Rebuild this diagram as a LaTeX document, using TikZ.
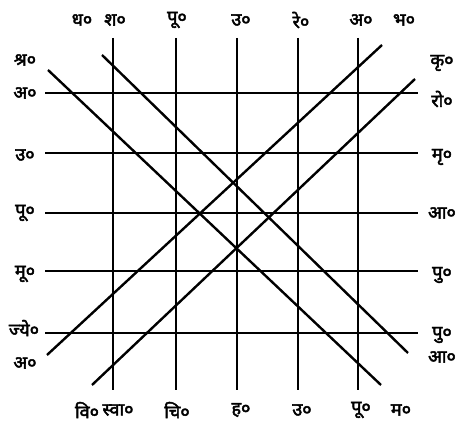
\documentclass[tikz,border=0pt]{standalone}
\usepackage{fontspec}
\newfontfamily\devfont[Script=Devanagari,FakeBold=2.5]{Noto Sans}
\usetikzlibrary{positioning}
\tikzset{
 lbl/.style={inner sep=0pt,font=\devfont\fontsize{18}{20}\selectfont},
 rule/.style={line width=2.4pt}
}
\begin{document}
\begin{tikzpicture}[x=1pt,y=-1pt]
\useasboundingbox (0,0) rectangle (459,422);
% line ends
\coordinate (v1t) at (113,38);  \coordinate (v1b) at (113,390);
\coordinate (v2t) at (176,38);  \coordinate (v2b) at (176,390);
\coordinate (v3t) at (237,38);  \coordinate (v3b) at (237,390);
\coordinate (v4t) at (298,38);  \coordinate (v4b) at (298,390);
\coordinate (v5t) at (358,38);  \coordinate (v5b) at (358,390);
\coordinate (h1l) at (45,93);   \coordinate (h1r) at (418,93);
\coordinate (h2l) at (45,153);  \coordinate (h2r) at (418,153);
\coordinate (h3l) at (45,213);  \coordinate (h3r) at (418,213);
\coordinate (h4l) at (45,271);  \coordinate (h4r) at (418,271);
\coordinate (h5l) at (45,333);  \coordinate (h5r) at (418,333);
\coordinate (d1a) at (48,70);   \coordinate (d1b) at (381,385);
\coordinate (d2a) at (102,55);  \coordinate (d2b) at (408,353);
\coordinate (d3a) at (47,355);  \coordinate (d3b) at (382,45);
\coordinate (d4a) at (92,385);  \coordinate (d4b) at (415,79);
% top
\node[lbl] (dha) at (82,20) {ध०};
\node[lbl] (sha) at (115,20) {श०};
\node[lbl] (pbh) at (177,20) {पू०};
\node[lbl] (ubh) at (241,20) {उ०};
\node[lbl] (rev) at (301,20) {रे०};
\node[lbl] (ash) at (361,20) {अ०};
\node[lbl] (bha) at (404,20) {भ०};
% right
\node[lbl] (kri) at (442,63) {कृ०};
\node[lbl] (roh) at (442,99) {रो०};
\node[lbl] (mri) at (442,157) {मृ०};
\node[lbl] (ard) at (442,213) {आ०};
\node[lbl] (pun) at (442,275) {पु०};
\node[lbl] (pus) at (442,335) {पु०};
\node[lbl] (asl) at (442,357) {आ०};
% bottom
\node[lbl] (vis) at (87,410) {वि०};
\node[lbl] (swa) at (118,410) {स्वा०};
\node[lbl] (chi) at (177,410) {चि०};
\node[lbl] (has) at (241,410) {ह०};
\node[lbl] (uph) at (302,410) {उ०};
\node[lbl] (pph) at (361,410) {पू०};
\node[lbl] (mag) at (401,410) {म०};
% left
\node[lbl] (shr) at (25,60) {श्र०};
\node[lbl] (abh) at (25,93) {अ०};
\node[lbl] (usa) at (25,155) {उ०};
\node[lbl] (psa) at (25,213) {पू०};
\node[lbl] (mul) at (25,274) {मू०};
\node[lbl] (jye) at (24,328) {ज्ये०};
\node[lbl] (anu) at (25,363) {अ०};
% grid
\draw[rule] (v1t)--(v1b);
\draw[rule] (v2t)--(v2b);
\draw[rule] (v3t)--(v3b);
\draw[rule] (v4t)--(v4b);
\draw[rule] (v5t)--(v5b);
\draw[rule] (h1l)--(h1r);
\draw[rule] (h2l)--(h2r);
\draw[rule] (h3l)--(h3r);
\draw[rule] (h4l)--(h4r);
\draw[rule] (h5l)--(h5r);
\draw[rule] (d1a)--(d1b);
\draw[rule] (d2a)--(d2b);
\draw[rule] (d3a)--(d3b);
\draw[rule] (d4a)--(d4b);
\end{tikzpicture}
\end{document}
